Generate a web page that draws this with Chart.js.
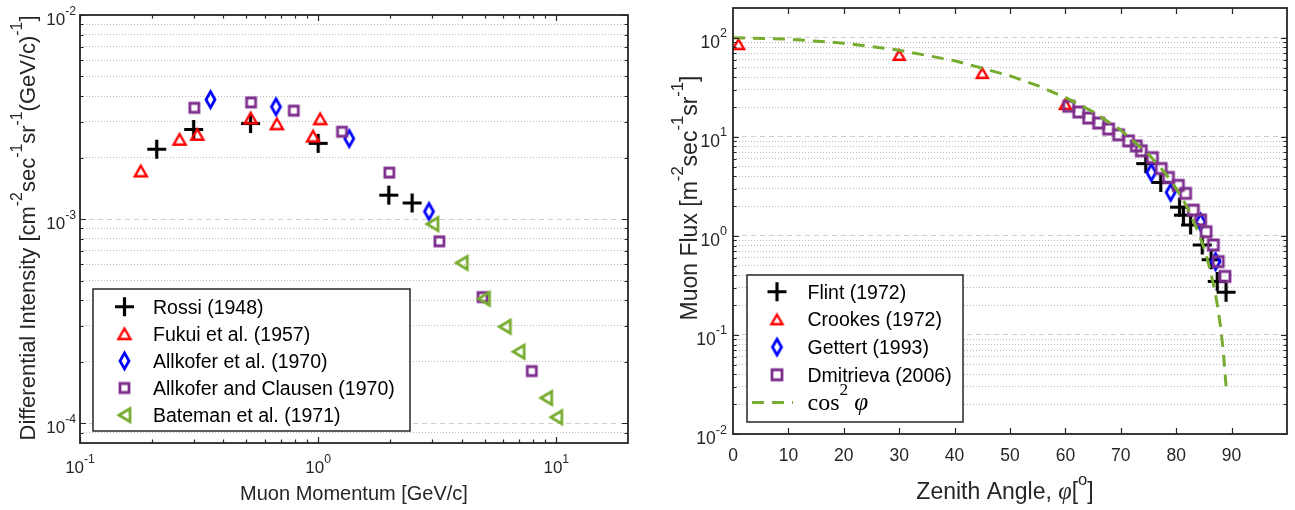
<!DOCTYPE html>
<html>
<head>
<meta charset="utf-8">
<title>Muon spectra</title>
<script src="https://cdn.jsdelivr.net/npm/chart.js@4.4.1/dist/chart.umd.min.js"></script>
<style>
  html, body { margin: 0; padding: 0; background: #fff; }
  #lienzo { position: relative; width: 1295px; height: 510px; overflow: hidden; }
  #lienzo canvas { position: absolute; top: 0; }
</style>
</head>
<body>
<div id="lienzo">
  <canvas id="grafica-momento" width="645" height="510" style="left:0"></canvas>
  <canvas id="grafica-cenit" width="650" height="510" style="left:645px"></canvas>
</div>
<script>
// ============================================================
//  Muon momentum spectrum (left) and zenith-angle flux (right)
// ============================================================

// ---------------------------------------------------------------
// Left panel data: momentum [GeV/c] vs differential intensity
// ---------------------------------------------------------------
const rossiP     = [0.21, 0.30, 0.52, 1.0, 1.98, 2.48];
const rossiI     = [2.20e-3, 2.75e-3, 2.94e-3, 2.35e-3, 1.31e-3, 1.20e-3];
const fukuiP     = [0.18, 0.262, 0.311, 0.521, 0.671, 0.952, 1.02];
const fukuiI     = [1.72e-3, 2.46e-3, 2.60e-3, 3.13e-3, 2.93e-3, 2.55e-3, 3.10e-3];
const allkoferP  = [0.353, 0.665, 1.35, 2.92];
const allkoferI  = [3.85e-3, 3.55e-3, 2.48e-3, 1.09e-3];
const clausenP   = [0.302, 0.523, 0.79, 1.26, 1.99, 3.23, 4.90, 7.89];
const clausenI   = [3.51e-3, 3.73e-3, 3.40e-3, 2.68e-3, 1.69e-3, 7.78e-4, 4.15e-4, 1.80e-4];
const batemanP   = [3.02, 4.01, 4.97, 6.08, 6.95, 9.07, 10.0];
const batemanI   = [9.46e-4, 6.10e-4, 4.07e-4, 2.97e-4, 2.24e-4, 1.33e-4, 1.07e-4];

const leftXTicks      = [0.1, 1, 10];
const leftXTickLabels = ['10^{-1}', '10^{0}', '10^{1}'];
const leftYTicks      = [1e-4, 1e-3, 1e-2];
const leftYTickLabels = ['10^{-4}', '10^{-3}', '10^{-2}'];

// ---------------------------------------------------------------
// Right panel data: zenith angle [deg] vs muon flux
// ---------------------------------------------------------------
const flintAng   = [74.5, 77.2, 80.6, 81.3, 82.6, 84.7, 86.3, 87.4, 89.0];
const flintFlux  = [5.37, 3.47, 1.95, 1.62, 1.29, 0.81, 0.575, 0.347, 0.27];
const crookesAng  = [1, 30, 45, 60];
const crookesFlux = [86, 67, 44, 21.4];
const gettertAng  = [75.5, 79.0, 84.4, 87.1];
const gettertFlux = [4.37, 2.75, 1.38, 0.55];
const dmitAng    = [60.6, 62.4, 64.2, 66.0, 67.8, 69.6, 71.4, 72.8, 73.7, 75.7, 77.3, 78.6, 80.4, 81.7, 83.1, 84.4, 85.4, 86.7, 87.6, 88.8];
const dmitFlux   = [20.4, 17.8, 15.5, 13.8, 12.0, 10.5, 9.1, 8.1, 7.24, 6.17, 4.79, 3.89, 3.24, 2.69, 1.82, 1.45, 1.10, 0.81, 0.55, 0.39];
const cosAng     = [0, 10, 20, 30, 40, 50, 55, 60, 65, 70, 75, 78, 80, 82, 84, 85, 86, 87, 87.5, 88, 88.5, 89];
const cosFlux    = [100, 97.0, 88.3, 75.0, 58.7, 41.3, 32.9, 25.0, 17.9, 11.7, 6.70, 4.32, 3.02, 1.94, 1.09, 0.76, 0.487, 0.274, 0.19, 0.122, 0.0685, 0.0305];

const rightXTicks      = [0, 10, 20, 30, 40, 50, 60, 70, 80, 90];
const rightXTickLabels = ['0', '10', '20', '30', '40', '50', '60', '70', '80', '90'];
const rightYTicks      = [0.01, 0.1, 1, 10, 100];
const rightYTickLabels = ['10^{-2}', '10^{-1}', '10^{0}', '10^{1}', '10^{2}'];

// ---------------------------------------------------------------
// Helpers
// ---------------------------------------------------------------
const SANS  = '"Liberation Sans", Arial, Helvetica, sans-serif';
const SERIF = '"Liberation Serif", "Times New Roman", serif';
const MORADO = '#7E2F8E';
const VERDE  = '#77AC30';

function esDecada(v) {
  const l = Math.log10(v);
  return Math.abs(l - Math.round(l)) < 1e-9;
}

function marcasLog(min, max) {
  const out = [];
  for (let e = Math.floor(Math.log10(min)); e <= Math.ceil(Math.log10(max)); e++) {
    for (let k = 1; k < 10; k++) {
      const v = k * Math.pow(10, e);
      if (v > min * 1.001 && v < max * 0.999) out.push(v);
    }
  }
  return out;
}

function pares(xs, ys) { return xs.map((x, i) => ({ x, y: ys[i] })); }

// marker bitmaps (MATLAB-like outline markers)
function marcador(tipo, color, w, h, lw) {
  const pad = Math.ceil(lw) + 1;
  const c = document.createElement('canvas');
  c.width = Math.ceil(w) + 2 * pad;
  c.height = Math.ceil(h) + 2 * pad;
  const g = c.getContext('2d');
  const cx = c.width / 2, cy = c.height / 2;
  g.strokeStyle = color;
  g.lineWidth = lw;
  g.lineJoin = 'miter';
  g.beginPath();
  if (tipo === 'plus') {
    g.moveTo(cx - w / 2, cy); g.lineTo(cx + w / 2, cy);
    g.moveTo(cx, cy - h / 2); g.lineTo(cx, cy + h / 2);
  } else if (tipo === 'triUp') {
    g.moveTo(cx, cy - h / 2); g.lineTo(cx + w / 2, cy + h / 2); g.lineTo(cx - w / 2, cy + h / 2); g.closePath();
  } else if (tipo === 'triLeft') {
    g.moveTo(cx - w / 2, cy); g.lineTo(cx + w / 2, cy - h / 2); g.lineTo(cx + w / 2, cy + h / 2); g.closePath();
  } else if (tipo === 'diamond') {
    g.moveTo(cx, cy - h / 2); g.lineTo(cx + w / 2, cy); g.lineTo(cx, cy + h / 2); g.lineTo(cx - w / 2, cy); g.closePath();
  } else {
    g.rect(cx - w / 2, cy - h / 2, w, h);
  }
  g.stroke();
  return c;
}

// text with ^{superscript} and *italic* parts
function partesTexto(str) {
  const re = /\^\{([^}]*)\}|\*([^*]+)\*|([^^*]+)/g;
  const out = [];
  let m;
  while ((m = re.exec(str)) !== null) {
    if (m[1] !== undefined) out.push({ t: m[1], k: 'sup' });
    else if (m[2] !== undefined) out.push({ t: m[2], k: 'it' });
    else out.push({ t: m[3], k: 'n' });
  }
  return out;
}

function fuente(k, size, fam) {
  if (k === 'sup') return (size * 0.72).toFixed(1) + 'px ' + fam;
  if (k === 'it') return 'italic ' + (size * 1.05).toFixed(1) + 'px ' + SERIF;
  return size + 'px ' + fam;
}

function textoRico(ctx, str, x, y, size, align, fam) {
  fam = fam || SANS;
  const partes = partesTexto(str);
  let total = 0;
  partes.forEach(p => { ctx.font = fuente(p.k, size, fam); p.w = ctx.measureText(p.t).width; total += p.w; });
  let cx = align === 'center' ? x - total / 2 : (align === 'right' ? x - total : x);
  ctx.textAlign = 'left';
  ctx.textBaseline = 'alphabetic';
  partes.forEach(p => {
    ctx.font = fuente(p.k, size, fam);
    ctx.fillText(p.t, cx, p.k === 'sup' ? y - size * 0.6 : y);
    cx += p.w;
  });
}

// ---------------------------------------------------------------
// Frame, inward ticks, tick labels, titles and legend
// ---------------------------------------------------------------
function decorado(cfg) {
  return {
    id: 'decorado',
    afterDatasetsDraw(chart) {
      const ctx = chart.ctx, a = chart.chartArea;
      const sx = chart.scales.x, sy = chart.scales.y;
      ctx.save();
      ctx.setLineDash([]);
      ctx.strokeStyle = '#262626';
      ctx.lineWidth = 1.2;

      ctx.beginPath();
      const marcasX = (vals, len) => vals.forEach(v => {
        const px = Math.round(sx.getPixelForValue(v)) + 0.5;
        ctx.moveTo(px, a.bottom); ctx.lineTo(px, a.bottom - len);
        ctx.moveTo(px, a.top);    ctx.lineTo(px, a.top + len);
      });
      const marcasY = (vals, len) => vals.forEach(v => {
        const py = Math.round(sy.getPixelForValue(v)) + 0.5;
        ctx.moveTo(a.left, py);  ctx.lineTo(a.left + len, py);
        ctx.moveTo(a.right, py); ctx.lineTo(a.right - len, py);
      });
      marcasX(cfg.xMayor, 6);
      marcasX(cfg.xMenor, 3.5);
      marcasY(cfg.yMayor, 6);
      marcasY(cfg.yMenor, 3.5);
      ctx.stroke();

      ctx.lineWidth = 1.8;
      ctx.strokeRect(a.left, a.top, a.width, a.height);

      // tick labels
      ctx.fillStyle = '#262626';
      cfg.xTicks.forEach((v, i) => {
        textoRico(ctx, cfg.xLabels[i], sx.getPixelForValue(v), cfg.xBase, cfg.tamTick, 'center');
      });
      cfg.yTicks.forEach((v, i) => {
        textoRico(ctx, cfg.yLabels[i], cfg.yDerecha, sy.getPixelForValue(v) + 10, cfg.tamTick, 'right');
      });

      // axis titles
      textoRico(ctx, cfg.tituloX, cfg.tituloXPos[0], cfg.tituloXPos[1], cfg.tamTituloX, 'center');
      ctx.save();
      ctx.translate(cfg.tituloYPos[0], cfg.tituloYPos[1]);
      ctx.rotate(-Math.PI / 2);
      textoRico(ctx, cfg.tituloY, 0, 0, cfg.tamTituloY, 'center');
      ctx.restore();

      // legend
      const L = cfg.leyenda;
      ctx.fillStyle = '#fff';
      ctx.fillRect(L.x, L.y, L.w, L.h);
      ctx.lineWidth = 1.5;
      ctx.strokeStyle = '#262626';
      ctx.strokeRect(L.x, L.y, L.w, L.h);
      chart.data.datasets.forEach((ds, i) => {
        const cy = L.y0 + i * L.dy;
        if (ds.showLine) {
          ctx.save();
          ctx.strokeStyle = ds.borderColor;
          ctx.lineWidth = ds.borderWidth;
          ctx.setLineDash(ds.borderDash);
          ctx.beginPath();
          ctx.moveTo(L.x + 5, cy); ctx.lineTo(L.x + 46, cy);
          ctx.stroke();
          ctx.restore();
        } else {
          const img = ds.pointStyle;
          ctx.drawImage(img, L.x + L.mx - img.width / 2, cy - img.height / 2);
        }
        ctx.fillStyle = '#000';
        textoRico(ctx, ds.leyendaTexto || ds.label, L.x + L.tx, cy + 7, ds.leyendaSerif ? 24 : 19.5, 'left', ds.leyendaSerif ? SERIF : SANS);
      });
      ctx.restore();
    }
  };
}

function rejillaLog() {
  return {
    grid: {
      drawTicks: false,
      lineWidth: 1,
      color: c => (c.tick && esDecada(c.tick.value)) ? '#d0d0d0' : '#b8b8b8'
    },
    border: {
      display: false,
      dash: c => (c.tick && esDecada(c.tick.value)) ? [5, 4] : [1, 2]
    }
  };
}

function serie(label, xs, ys, img, orden) {
  return { label, data: pares(xs, ys), pointStyle: img, pointRadius: 7, showLine: false, order: orden };
}

// ---------------------------------------------------------------
// Left chart
// ---------------------------------------------------------------
new Chart(document.getElementById('grafica-momento'), {
  type: 'scatter',
  data: {
    datasets: [
      serie('Rossi (1948)', rossiP, rossiI, marcador('plus', '#000', 19, 19, 3.2), 5),
      serie('Fukui et al. (1957)', fukuiP, fukuiI, marcador('triUp', '#ff0000', 12, 10.5, 2.4), 4),
      serie('Allkofer et al. (1970)', allkoferP, allkoferI, marcador('diamond', '#0000ff', 9, 16, 2.8), 3),
      serie('Allkofer and Clausen (1970)', clausenP, clausenI, marcador('square', MORADO, 9, 9, 2.8), 2),
      serie('Bateman et al. (1971)', batemanP, batemanI, marcador('triLeft', VERDE, 11, 13, 2.8), 1)
    ]
  },
  options: {
    responsive: false,
    animation: false,
    layout: { padding: { top: 15, right: 17, left: 0, bottom: 0 } },
    plugins: { legend: { display: false }, tooltip: { enabled: false } },
    scales: {
      x: {
        type: 'logarithmic', min: 0.1, max: 20,
        ticks: { display: false },
        grid: { display: false, drawTicks: false },
        border: { display: false },
        afterFit: s => { s.height = 67; }
      },
      y: {
        type: 'logarithmic', min: 8e-5, max: 1e-2,
        ticks: { display: false },
        afterBuildTicks: s => { s.ticks = marcasLog(8e-5, 1e-2).concat([1e-2]).map(v => ({ value: v })); },
        afterFit: s => { s.width = 80; },
        ...rejillaLog()
      }
    }
  },
  plugins: [decorado({
    xMayor: leftXTicks, xMenor: marcasLog(0.1, 20).filter(v => !esDecada(v)),
    yMayor: leftYTicks, yMenor: marcasLog(8e-5, 1e-2).filter(v => !esDecada(v)),
    xTicks: leftXTicks, xLabels: leftXTickLabels, xBase: 473,
    yTicks: leftYTicks, yLabels: leftYTickLabels, yDerecha: 76, tamTick: 17,
    tituloX: 'Muon Momentum [GeV/c]', tituloXPos: [354, 500], tamTituloX: 20,
    tituloY: 'Differential Intensity [cm^{-2}sec^{-1}sr^{-1}(GeV/c)^{-1}]', tituloYPos: [35, 228], tamTituloY: 22,
    leyenda: { x: 93, y: 289, w: 317, h: 142, mx: 31.5, tx: 60, y0: 306.7, dy: 27.1 }
  })]
});

// ---------------------------------------------------------------
// Right chart
// ---------------------------------------------------------------
new Chart(document.getElementById('grafica-cenit'), {
  type: 'scatter',
  data: {
    datasets: [
      serie('Flint (1972)', flintAng, flintFlux, marcador('plus', '#000', 19, 19, 3.2), 5),
      serie('Crookes (1972)', crookesAng, crookesFlux, marcador('triUp', '#ff0000', 11, 9.5, 2.4), 4),
      serie('Gettert (1993)', gettertAng, gettertFlux, marcador('diamond', '#0000ff', 9, 16, 2.8), 3),
      serie('Dmitrieva (2006)', dmitAng, dmitFlux, marcador('square', MORADO, 10, 10, 2.8), 2),
      {
        label: 'cos² φ', leyendaTexto: 'cos^{2} *φ*', leyendaSerif: true,
        data: pares(cosAng, cosFlux), showLine: true, pointRadius: 0,
        borderColor: VERDE, borderWidth: 3, borderDash: [12, 8], order: 1
      }
    ]
  },
  options: {
    responsive: false,
    animation: false,
    layout: { padding: { top: 7, right: 8, left: 0, bottom: 0 } },
    plugins: { legend: { display: false }, tooltip: { enabled: false } },
    scales: {
      x: {
        type: 'linear', min: 0, max: 100,
        ticks: { display: false },
        grid: { display: false, drawTicks: false },
        border: { display: false },
        afterFit: s => { s.height = 76; }
      },
      y: {
        type: 'logarithmic', min: 0.01, max: 200,
        ticks: { display: false },
        afterBuildTicks: s => { s.ticks = marcasLog(0.01, 200).concat([0.01]).map(v => ({ value: v })); },
        afterFit: s => { s.width = 88; },
        ...rejillaLog()
      }
    }
  },
  plugins: [decorado({
    xMayor: rightXTicks.slice(1), xMenor: [],
    yMayor: rightYTicks, yMenor: marcasLog(0.01, 200).filter(v => !esDecada(v)),
    xTicks: rightXTicks, xLabels: rightXTickLabels, xBase: 461,
    yTicks: rightYTicks, yLabels: rightYTickLabels, yDerecha: 82, tamTick: 17.5,
    tituloX: 'Zenith Angle, *φ*[^{o}]', tituloXPos: [360, 499], tamTituloX: 23,
    tituloY: 'Muon Flux [m^{-2}sec^{-1}sr^{-1}]', tituloYPos: [52, 198], tamTituloY: 23,
    leyenda: { x: 102, y: 275, w: 216, h: 147, mx: 30, tx: 60.5, y0: 291.7, dy: 27.7 }
  })]
});
</script>
</body>
</html>
